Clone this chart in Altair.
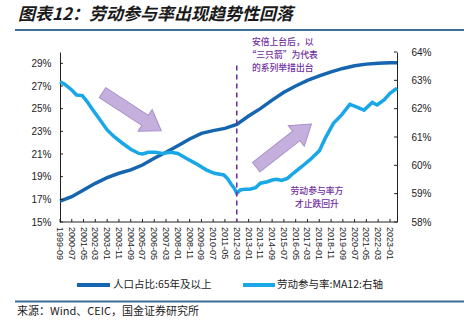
import altair as alt
import pandas as pd

# ---------------- data ----------------
pop_dates = ["1999-09", "2000-07", "2001-05", "2002-03", "2003-01", "2003-11", "2004-09",
             "2005-07", "2006-05", "2007-03", "2008-01", "2008-11", "2009-09", "2010-07",
             "2011-05", "2012-03", "2013-01", "2013-11", "2014-09", "2015-07", "2016-05",
             "2017-03", "2018-01", "2018-11", "2019-09", "2020-07", "2021-05", "2022-03",
             "2023-01", "2023-07"]
pop_values = [16.85, 17.23, 17.82, 18.41, 18.91, 19.30, 19.60, 20.03, 20.62, 21.15, 21.73,
              22.32, 22.82, 23.06, 23.26, 23.60, 24.35, 25.00, 25.75, 26.45, 27.00, 27.50,
              27.90, 28.25, 28.55, 28.78, 28.93, 29.00, 29.05, 29.06]

lfpr_dates = ["1999-09", "2000-01", "2000-07", "2000-11", "2001-04", "2001-08", "2001-12",
              "2002-06", "2003-01", "2003-07", "2004-02", "2004-09", "2005-04", "2005-07",
              "2005-12", "2006-06", "2006-12", "2007-07", "2008-01", "2008-08", "2009-04",
              "2010-01", "2010-08", "2011-04", "2011-07", "2011-10", "2012-01", "2012-03",
              "2012-06", "2012-10", "2013-02", "2013-07", "2013-11", "2014-05", "2014-09",
              "2015-01", "2015-05", "2015-10", "2016-03", "2016-10", "2017-05", "2018-01",
              "2018-06", "2019-01", "2019-08", "2020-03", "2020-08", "2021-03", "2021-10",
              "2022-02", "2022-08", "2023-01", "2023-07"]
lfpr_values = [62.95, 62.86, 62.66, 62.48, 62.46, 62.25, 62.01, 61.66, 61.25, 61.01, 60.78,
               60.57, 60.42, 60.40, 60.46, 60.46, 60.42, 60.46, 60.42, 60.25, 60.07, 59.84,
               59.72, 59.66, 59.54, 59.35, 59.18, 59.01, 59.13, 59.16, 59.16, 59.21, 59.37,
               59.42, 59.48, 59.51, 59.47, 59.54, 59.72, 59.95, 60.19, 60.51, 60.95, 61.48,
               61.78, 62.15, 62.07, 61.95, 62.22, 62.13, 62.31, 62.54, 62.72]

x_tick_labels = ["1999-09", "2000-07", "2001-05", "2002-03", "2003-01", "2003-11", "2004-09",
                 "2005-07", "2006-05", "2007-03", "2008-01", "2008-11", "2009-09", "2010-07",
                 "2011-05", "2012-03", "2013-01", "2013-11", "2014-09", "2015-07", "2016-05",
                 "2017-03", "2018-01", "2018-11", "2019-09", "2020-07", "2021-05", "2022-03",
                 "2023-01"]
left_ticks = [15, 17, 19, 21, 23, 25, 27, 29]
right_ticks = [58, 59, 60, 61, 62, 63, 64]

series_names = ["人口占比:65年及以上", "劳动参与率:MA12:右轴"]
title_text = "图表12：劳动参与率出现趋势性回落"
source_text = "来源：Wind、CEIC，国金证券研究所"
note_top = ["安倍上台后，以", "“三只箭”为代表", "的系列举措出台"]
note_bottom = ["劳动参与率方", "才止跌回升"]
abe_date = "2012-03"

# annotation anchors (data space, left axis): first-line centre of each note
note_dates = ["2015-06", "2017-11"]
note_y = [30.84, 17.73]
arrow_dates = ["2004-10", "2015-07"]
arrow_y = [24.73, 21.74]
arrow_angle = [33, 322]

# ---------------- styling ----------------
DARK = "#1565B0"
LIGHT = "#19A7E8"
PURPLE = "#7030A0"
RULE_BLUE = "#3D6E98"
AX = "#222222"
W, H = 337, 170
CJK = "Noto Sans CJK SC"
LAT = "Liberation Sans"


def ym(s):
    y, m = s.split("-")
    return alt.DateTime(year=int(y), month=int(m), date=1)


def to_dt(lst):
    return pd.to_datetime([s + "-01" for s in lst])


pop_df = pd.DataFrame({"date": to_dt(pop_dates), "v": pop_values})
lfpr_df = pd.DataFrame({"date": to_dt(lfpr_dates), "v": lfpr_values})
xt_df = pd.DataFrame({"date": to_dt(x_tick_labels), "lab": x_tick_labels})
lt_df = pd.DataFrame({"v": left_ticks})
rt_df = pd.DataFrame({"v": right_ticks})
abe_df = pd.DataFrame({"date": to_dt([abe_date]), "y": [28.8], "y2": [15]})
note_df = pd.DataFrame({"date": to_dt(note_dates), "y": note_y,
                        "t": ["\n".join(note_top), "\n".join(note_bottom)]})
arr_df = pd.DataFrame({"date": to_dt(arrow_dates), "y": arrow_y, "a": arrow_angle})

x_scale = alt.Scale(domain=[ym("1999-09"), ym("2023-07")], nice=False)
left_scale = alt.Scale(domain=[15, 30], nice=False, zero=False)
right_scale = alt.Scale(domain=[58, 64], nice=False, zero=False)

X = alt.X("date:T", scale=x_scale, axis=None)

left_axis = alt.Axis(orient="left", values=left_ticks, labelExpr="datum.value + '%'",
                     ticks=False, labelPadding=9, labelFontSize=10, labelFont=LAT,
                     labelColor=AX, domainColor=AX, grid=False, title=None)
right_axis = alt.Axis(orient="right", values=right_ticks, labelExpr="datum.value + '%'",
                      ticks=False, labelPadding=14, labelFontSize=10, labelFont=LAT,
                      labelColor=AX, domainColor=AX, grid=False, title=None)

pop_line = alt.Chart(pop_df).mark_line(color=DARK, strokeWidth=3.5).encode(
    x=X, y=alt.Y("v:Q", scale=left_scale, axis=left_axis))
lfpr_line = alt.Chart(lfpr_df).mark_line(color=LIGHT, strokeWidth=3.5).encode(
    x=X, y=alt.Y("v:Q", scale=right_scale, axis=right_axis))

# x axis: baseline, inward ticks and rotated labels, placed by the shared time scale
x_base = alt.Chart(alt.Data(values=[{"k": 1}])).mark_rule(color=AX, strokeWidth=1).encode(
    x=alt.value(0), x2=alt.value(W), y=alt.value(H))
x_ticks = alt.Chart(xt_df).mark_rule(color=AX, strokeWidth=1).encode(
    x=X, y=alt.value(H - 3), y2=alt.value(H))
x_labels = alt.Chart(xt_df).mark_text(angle=90, align="left", baseline="middle", fontSize=9,
                                      font=LAT, color=AX).encode(
    x=X, y=alt.value(H + 5), text="lab:N")
l_ticks = alt.Chart(lt_df).mark_rule(color=AX, strokeWidth=1).encode(
    y=alt.Y("v:Q", scale=left_scale, axis=None), x=alt.value(0), x2=alt.value(3))
r_ticks = alt.Chart(rt_df).mark_rule(color=AX, strokeWidth=1).encode(
    y=alt.Y("v:Q", scale=right_scale, axis=None), x=alt.value(W - 3), x2=alt.value(W))

abe_rule = alt.Chart(abe_df).mark_rule(color=PURPLE, strokeWidth=1.6, strokeDash=[5, 4]).encode(
    x=X, y=alt.Y("y:Q", scale=left_scale, axis=None), y2="y2:Q")

ARROW = "M -1 -0.17 L 0.45 -0.17 L 0.45 -0.37 L 1 0 L 0.45 0.37 L 0.45 0.17 L -1 0.17 Z"
arrows = alt.Chart(arr_df).mark_point(shape=ARROW, filled=True, fill="#BFA7DA", stroke="#9F83C4",
                                      strokeWidth=1, opacity=0.9, size=4900).encode(
    x=X, y=alt.Y("y:Q", scale=left_scale, axis=None), angle=alt.Angle("a:Q", scale=None))

notes = alt.Chart(note_df).mark_text(color=PURPLE, fontSize=8.8, font=CJK, fontWeight=500,
                                     align="center", baseline="middle", lineBreak="\n",
                                     lineHeight=12.9).encode(
    x=X, y=alt.Y("y:Q", scale=left_scale, axis=None), text="t:N")


def text_at(txt, x, y, **kw):
    return alt.Chart(alt.Data(values=[{"t": txt}])).mark_text(**kw).encode(
        x=alt.value(x), y=alt.value(y), text="t:N")


def hline(x, x2, y, color, width):
    return alt.Chart(alt.Data(values=[{"k": 1}])).mark_rule(color=color, strokeWidth=width).encode(
        x=alt.value(x), x2=alt.value(x2), y=alt.value(y))


# page furniture (pixel positions relative to plot origin)
title = text_at(title_text, -42, -37, fontSize=17, fontWeight="bold", fontStyle="italic",
                font=CJK, color="#1a1a1a", align="left", baseline="middle")
title_rule = hline(-45, 404, -22, RULE_BLUE, 2)
src_rule = hline(-45, 404, 249.5, RULE_BLUE, 2)
source = text_at(source_text, -43, 260, fontSize=11, font=CJK, color=AX,
                 align="left", baseline="middle")
leg_line1 = hline(17, 50, 233, DARK, 4)
leg_line2 = hline(183, 215, 233, LIGHT, 4)
leg_text1 = text_at(series_names[0], 53, 233, fontSize=10.5, font=CJK, color=AX,
                    align="left", baseline="middle")
leg_text2 = text_at(series_names[1], 217, 233, fontSize=10.5, font=CJK, color=AX,
                    align="left", baseline="middle")

chart = alt.layer(
    pop_line, lfpr_line, x_base, x_ticks, x_labels, l_ticks, r_ticks, abe_rule, arrows,
    notes, title, title_rule, src_rule, source,
    leg_line1, leg_line2, leg_text1, leg_text2,
).resolve_scale(y="independent").properties(
    width=W, height=H, autosize="none",
    padding={"left": 60, "top": 52, "right": 67, "bottom": 108},
    background="white",
).configure_view(stroke=None)

chart.save("out.html", embed_options={"renderer": "svg", "actions": False})
